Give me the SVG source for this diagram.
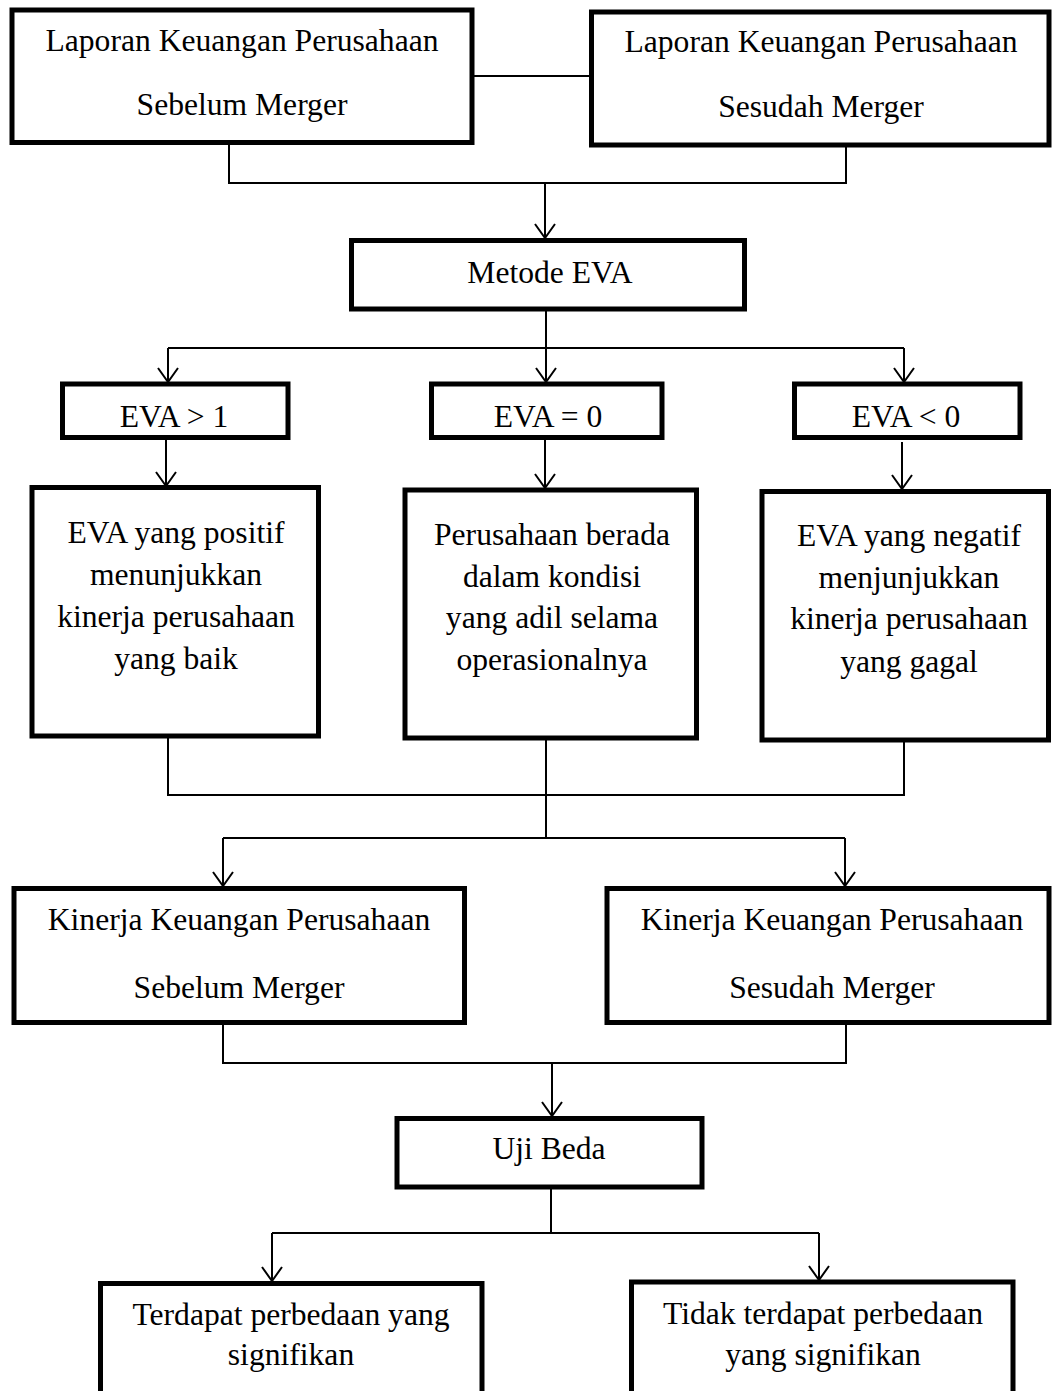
<svg xmlns="http://www.w3.org/2000/svg" width="1056" height="1391" viewBox="0 0 1056 1391">
<style>
.box{fill:#fff;stroke:#000;stroke-width:5}
.t{font-family:'Liberation Serif','Times New Roman',serif;font-size:31.6px;fill:#000;text-anchor:middle}
.c{fill:none;stroke:#000;stroke-width:2}
</style>
<defs>
<marker id="arr" markerUnits="userSpaceOnUse" markerWidth="18" markerHeight="24" viewBox="-16 -12 18 24" refX="0" refY="0" orient="auto" overflow="visible">
<path d="M-14,-10 L0,0 L-14,10" fill="none" stroke="#000" stroke-width="2"/>
</marker>
</defs>
<rect width="1056" height="1391" fill="#fff"/>
<g id="connectors">
<path class="c" d="M472,76 H592"/>
<path class="c" d="M229,145 V183 H846 V147"/>
<path class="c" d="M545,183 V238" marker-end="url(#arr)"/>
<path class="c" d="M546,309 V348"/>
<path class="c" d="M168,348 H904"/>
<path class="c" d="M168,348 V382" marker-end="url(#arr)"/>
<path class="c" d="M546,348 V382" marker-end="url(#arr)"/>
<path class="c" d="M904,348 V382" marker-end="url(#arr)"/>
<path class="c" d="M166,440 V486" marker-end="url(#arr)"/>
<path class="c" d="M545,440 V488" marker-end="url(#arr)"/>
<path class="c" d="M902,442 V489" marker-end="url(#arr)"/>
<path class="c" d="M168,738 V795 H904 V742"/>
<path class="c" d="M546,740 V838"/>
<path class="c" d="M223,838 H845"/>
<path class="c" d="M223,838 V886" marker-end="url(#arr)"/>
<path class="c" d="M845,838 V886" marker-end="url(#arr)"/>
<path class="c" d="M223,1025 V1063 H846 V1025"/>
<path class="c" d="M552,1063 V1116" marker-end="url(#arr)"/>
<path class="c" d="M551,1189 V1233"/>
<path class="c" d="M272,1233 H819"/>
<path class="c" d="M272,1233 V1281" marker-end="url(#arr)"/>
<path class="c" d="M819,1233 V1280" marker-end="url(#arr)"/>
</g>
<g id="n1">
<rect class="box" x="12" y="10" width="460" height="132.5"/>
<text class="t" x="242" y="51">Laporan Keuangan Perusahaan</text>
<text class="t" x="242" y="115">Sebelum Merger</text>
</g>
<g id="n2">
<rect class="box" x="591.5" y="12" width="457.5" height="133"/>
<text class="t" x="821" y="52">Laporan Keuangan Perusahaan</text>
<text class="t" x="821" y="117">Sesudah Merger</text>
</g>
<g id="n3">
<rect class="box" x="351.5" y="240.5" width="393" height="68.5"/>
<text class="t" x="550" y="283">Metode EVA</text>
</g>
<g id="n4">
<rect class="box" x="62.5" y="384" width="225.5" height="53.5"/>
<text class="t" x="174" y="427">EVA &gt; 1</text>
</g>
<g id="n5">
<rect class="box" x="431.5" y="384" width="230.5" height="53.5"/>
<text class="t" x="548" y="427">EVA = 0</text>
</g>
<g id="n6">
<rect class="box" x="794.5" y="384" width="225.5" height="53.5"/>
<text class="t" x="906" y="427">EVA &lt; 0</text>
</g>
<g id="n7">
<rect class="box" x="32" y="487.5" width="286.5" height="248.5"/>
<text class="t" x="176" y="543">EVA yang positif</text>
<text class="t" x="176" y="585">menunjukkan</text>
<text class="t" x="176" y="627">kinerja perusahaan</text>
<text class="t" x="176" y="669">yang baik</text>
</g>
<g id="n8">
<rect class="box" x="405" y="490" width="291.5" height="248"/>
<text class="t" x="552" y="545">Perusahaan berada</text>
<text class="t" x="552" y="587">dalam kondisi</text>
<text class="t" x="552" y="628">yang adil selama</text>
<text class="t" x="552" y="670">operasionalnya</text>
</g>
<g id="n9">
<rect class="box" x="762" y="491.5" width="286.5" height="248.5"/>
<text class="t" x="909" y="546">EVA yang negatif</text>
<text class="t" x="909" y="588">menjunjukkan</text>
<text class="t" x="909" y="629">kinerja perusahaan</text>
<text class="t" x="909" y="672">yang gagal</text>
</g>
<g id="n10">
<rect class="box" x="14" y="888.5" width="450.5" height="134"/>
<text class="t" x="239" y="930">Kinerja Keuangan Perusahaan</text>
<text class="t" x="239" y="998">Sebelum Merger</text>
</g>
<g id="n11">
<rect class="box" x="607" y="888.5" width="442" height="134"/>
<text class="t" x="832" y="930">Kinerja Keuangan Perusahaan</text>
<text class="t" x="832" y="998">Sesudah Merger</text>
</g>
<g id="n12">
<rect class="box" x="397" y="1118.5" width="305" height="68.5"/>
<text class="t" x="549" y="1159">Uji Beda</text>
</g>
<g id="n13">
<rect class="box" x="100.5" y="1283.5" width="381.5" height="130"/>
<text class="t" x="291" y="1325">Terdapat perbedaan yang</text>
<text class="t" x="291" y="1365">signifikan</text>
</g>
<g id="n14">
<rect class="box" x="631.5" y="1282" width="381.5" height="130"/>
<text class="t" x="823" y="1324">Tidak terdapat perbedaan</text>
<text class="t" x="823" y="1365">yang signifikan</text>
</g>
</svg>
